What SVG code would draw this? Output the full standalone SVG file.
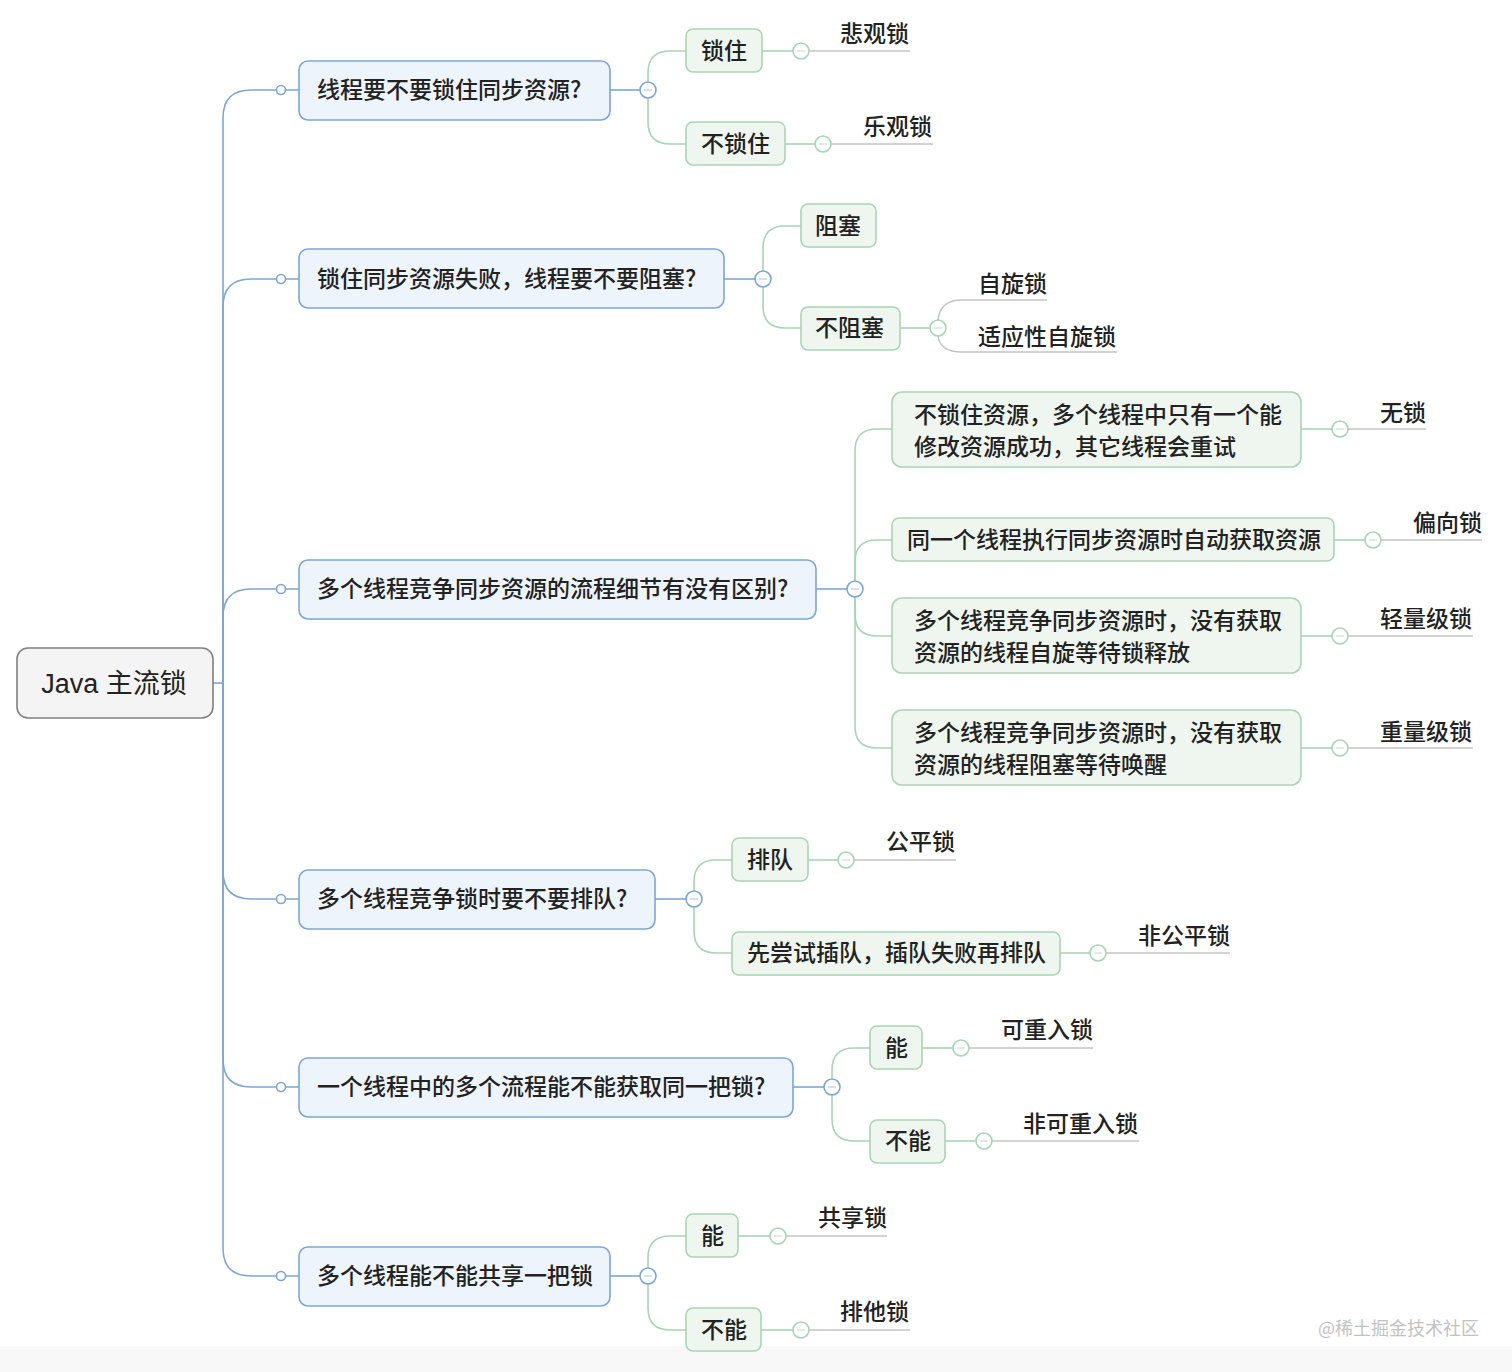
<svg xmlns="http://www.w3.org/2000/svg" width="1512" height="1372" viewBox="0 0 1512 1372">
<style>
text{font-family:"Noto Sans CJK SC","Noto Sans",sans-serif;fill:#222;font-size:23px;font-weight:500}
.root rect{fill:#f4f4f4;stroke:#808080;stroke-width:1.6}
.root text{font-family:"Liberation Sans","Noto Sans CJK SC",sans-serif;font-size:27px;font-weight:normal}
.l1 rect{fill:#eef4fb;stroke:#7ea6d2;stroke-width:1.6}
.l2 rect{fill:#eef6ef;stroke:#a9d4b5;stroke-width:1.6}
.bl{fill:none;stroke:#7ea6d2;stroke-width:1.6}
.gl{fill:none;stroke:#a9d4b5;stroke-width:1.6}
.ll{fill:none;stroke:#c4c4c4;stroke-width:1.6}
.cb{fill:#fff;stroke:#7ea6d2;stroke-width:1.6}
.cg{fill:#fff;stroke:#a9d4b5;stroke-width:1.6}
.mb{stroke:#b9cde4;stroke-width:1.2}
.mg{stroke:#c9e3cf;stroke-width:1.2}
text.wm{fill:#c2c2c2;font-size:18px;font-weight:normal}
</style>
<rect x="0" y="0" width="1512" height="1372" fill="#fff"/>
<rect x="0" y="1346" width="1512" height="26" fill="#f8f8f8"/>

<g id="connectors">
  <path class="bl" d="M213,683 H223"/>
  <path class="bl" d="M223,683 V118 Q223,90 251,90 H299"/>
  <path class="bl" d="M223,683 V307 Q223,279 251,279 H299"/>
  <path class="bl" d="M223,683 V617 Q223,589 251,589 H299"/>
  <path class="bl" d="M223,683 V871 Q223,899 251,899 H299"/>
  <path class="bl" d="M223,683 V1059 Q223,1087 251,1087 H299"/>
  <path class="bl" d="M223,683 V1248 Q223,1276 251,1276 H299"/>
  <circle class="cb" cx="281" cy="90" r="4.5"/>
  <circle class="cb" cx="281" cy="279" r="4.5"/>
  <circle class="cb" cx="281" cy="589" r="4.5"/>
  <circle class="cb" cx="281" cy="899" r="4.5"/>
  <circle class="cb" cx="281" cy="1087" r="4.5"/>
  <circle class="cb" cx="281" cy="1276" r="4.5"/>

  <path class="bl" d="M610,90 H640"/>
  <path class="bl" d="M724,279 H755"/>
  <path class="bl" d="M816,589 H847"/>
  <path class="bl" d="M655,899 H686"/>
  <path class="bl" d="M793,1087 H824"/>
  <path class="bl" d="M610,1276 H640"/>

  <path class="gl" d="M648,82 V73 Q648,51 670,51 H686"/>
  <path class="gl" d="M648,98 V122 Q648,144 670,144 H686"/>
  <path class="gl" d="M763,271 V248 Q763,226 785,226 H801"/>
  <path class="gl" d="M763,287 V306 Q763,328 785,328 H801"/>
  <path class="gl" d="M855,581 V451 Q855,429 877,429 H892"/>
  <path class="gl" d="M855,581 V562 Q855,540 877,540 H892"/>
  <path class="gl" d="M855,597 V614 Q855,636 877,636 H892"/>
  <path class="gl" d="M855,597 V726 Q855,748 877,748 H892"/>
  <path class="gl" d="M694,891 V882 Q694,860 716,860 H732"/>
  <path class="gl" d="M694,907 V931 Q694,953 716,953 H732"/>
  <path class="gl" d="M832,1079 V1070 Q832,1048 854,1048 H870"/>
  <path class="gl" d="M832,1095 V1119 Q832,1141 854,1141 H870"/>
  <path class="gl" d="M648,1268 V1258 Q648,1236 670,1236 H686"/>
  <path class="gl" d="M648,1284 V1308 Q648,1330 670,1330 H686"/>

  <path class="gl" d="M762,51 H793"/>
  <path class="gl" d="M785,144 H815"/>
  <path class="gl" d="M900,328 H930"/>
  <path class="gl" d="M1301,429 H1332"/>
  <path class="gl" d="M1334,540 H1365"/>
  <path class="gl" d="M1301,636 H1332"/>
  <path class="gl" d="M1301,748 H1332"/>
  <path class="gl" d="M808,860 H838"/>
  <path class="gl" d="M1060,953 H1090"/>
  <path class="gl" d="M922,1048 H953"/>
  <path class="gl" d="M945,1141 H976"/>
  <path class="gl" d="M738,1236 H770"/>
  <path class="gl" d="M761,1330 H793"/>

  <path class="ll" d="M809,51 H910"/>
  <path class="ll" d="M831,144 H933"/>
  <path class="ll" d="M938,320 Q940,300 962,300 H1047"/>
  <path class="ll" d="M938,336 Q940,352 962,352 H1117"/>
  <path class="ll" d="M1348,429 H1426"/>
  <path class="ll" d="M1381,540 H1482"/>
  <path class="ll" d="M1348,636 H1473"/>
  <path class="ll" d="M1348,748 H1473"/>
  <path class="ll" d="M854,860 H956"/>
  <path class="ll" d="M1106,953 H1230"/>
  <path class="ll" d="M969,1048 H1093"/>
  <path class="ll" d="M992,1141 H1139"/>
  <path class="ll" d="M786,1236 H887"/>
  <path class="ll" d="M809,1330 H910"/>

  <g>
    <circle class="cb" cx="648" cy="90" r="8"/><path class="mb" d="M644,90 H652"/>
    <circle class="cb" cx="763" cy="279" r="8"/><path class="mb" d="M759,279 H767"/>
    <circle class="cb" cx="855" cy="589" r="8"/><path class="mb" d="M851,589 H859"/>
    <circle class="cb" cx="694" cy="899" r="8"/><path class="mb" d="M690,899 H698"/>
    <circle class="cb" cx="832" cy="1087" r="8"/><path class="mb" d="M828,1087 H836"/>
    <circle class="cb" cx="648" cy="1276" r="8"/><path class="mb" d="M644,1276 H652"/>
  </g>
  <g>
    <circle class="cg" cx="801" cy="51" r="8"/><path class="mg" d="M797,51 H805"/>
    <circle class="cg" cx="823" cy="144" r="8"/><path class="mg" d="M819,144 H827"/>
    <circle class="cg" cx="938" cy="328" r="8"/><path class="mg" d="M934,328 H942"/>
    <circle class="cg" cx="1340" cy="429" r="8"/><path class="mg" d="M1336,429 H1344"/>
    <circle class="cg" cx="1373" cy="540" r="8"/><path class="mg" d="M1369,540 H1377"/>
    <circle class="cg" cx="1340" cy="636" r="8"/><path class="mg" d="M1336,636 H1344"/>
    <circle class="cg" cx="1340" cy="748" r="8"/><path class="mg" d="M1336,748 H1344"/>
    <circle class="cg" cx="846" cy="860" r="8"/><path class="mg" d="M842,860 H850"/>
    <circle class="cg" cx="1098" cy="953" r="8"/><path class="mg" d="M1094,953 H1102"/>
    <circle class="cg" cx="961" cy="1048" r="8"/><path class="mg" d="M957,1048 H965"/>
    <circle class="cg" cx="984" cy="1141" r="8"/><path class="mg" d="M980,1141 H988"/>
    <circle class="cg" cx="778" cy="1236" r="8"/><path class="mg" d="M774,1236 H782"/>
    <circle class="cg" cx="801" cy="1330" r="8"/><path class="mg" d="M797,1330 H805"/>
  </g>
</g>

<g id="root" class="root">
  <rect x="17" y="648" width="196" height="70" rx="11"/>
  <text x="114" y="693" text-anchor="middle">Java 主流锁</text>
</g>

<g id="q1" class="l1"><rect x="299" y="61" width="311" height="59" rx="9"/><text x="317" y="98">线程要不要锁住同步资源?</text></g>
<g id="q2" class="l1"><rect x="299" y="249" width="425" height="59" rx="9"/><text x="317" y="287">锁住同步资源失败，线程要不要阻塞?</text></g>
<g id="q3" class="l1"><rect x="299" y="560" width="517" height="59" rx="9"/><text x="317" y="597">多个线程竞争同步资源的流程细节有没有区别?</text></g>
<g id="q4" class="l1"><rect x="299" y="870" width="356" height="59" rx="9"/><text x="317" y="907">多个线程竞争锁时要不要排队?</text></g>
<g id="q5" class="l1"><rect x="299" y="1058" width="494" height="59" rx="9"/><text x="317" y="1095">一个线程中的多个流程能不能获取同一把锁?</text></g>
<g id="q6" class="l1"><rect x="299" y="1247" width="311" height="59" rx="9"/><text x="317" y="1284">多个线程能不能共享一把锁</text></g>

<g id="a1" class="l2"><rect x="686" y="29" width="76" height="43" rx="7"/><text x="701" y="59">锁住</text></g>
<g id="a2" class="l2"><rect x="686" y="122" width="99" height="43" rx="7"/><text x="701" y="152">不锁住</text></g>
<g id="b1" class="l2"><rect x="801" y="204" width="75" height="43" rx="7"/><text x="815" y="234">阻塞</text></g>
<g id="b2" class="l2"><rect x="801" y="307" width="99" height="43" rx="7"/><text x="815" y="336">不阻塞</text></g>
<g id="c1" class="l2"><rect x="892" y="392" width="409" height="75" rx="10"/><text x="914" y="423">不锁住资源，多个线程中只有一个能</text><text x="914" y="455">修改资源成功，其它线程会重试</text></g>
<g id="c2" class="l2"><rect x="892" y="518" width="442" height="43" rx="7"/><text x="907" y="548">同一个线程执行同步资源时自动获取资源</text></g>
<g id="c3" class="l2"><rect x="892" y="598" width="409" height="75" rx="10"/><text x="914" y="629">多个线程竞争同步资源时，没有获取</text><text x="914" y="661">资源的线程自旋等待锁释放</text></g>
<g id="c4" class="l2"><rect x="892" y="710" width="409" height="75" rx="10"/><text x="914" y="741">多个线程竞争同步资源时，没有获取</text><text x="914" y="773">资源的线程阻塞等待唤醒</text></g>
<g id="d1" class="l2"><rect x="732" y="838" width="76" height="43" rx="7"/><text x="747" y="868">排队</text></g>
<g id="d2" class="l2"><rect x="732" y="932" width="328" height="43" rx="7"/><text x="747" y="961">先尝试插队，插队失败再排队</text></g>
<g id="e1" class="l2"><rect x="870" y="1026" width="52" height="43" rx="7"/><text x="885" y="1056">能</text></g>
<g id="e2" class="l2"><rect x="870" y="1120" width="75" height="43" rx="7"/><text x="885" y="1149">不能</text></g>
<g id="f1" class="l2"><rect x="686" y="1214" width="52" height="43" rx="7"/><text x="701" y="1244">能</text></g>
<g id="f2" class="l2"><rect x="686" y="1308" width="75" height="43" rx="7"/><text x="701" y="1338">不能</text></g>

<g id="leaves">
  <g id="l-pessimistic"><text x="840" y="42">悲观锁</text></g>
  <g id="l-optimistic"><text x="863" y="135">乐观锁</text></g>
  <g id="l-spin"><text x="978" y="292">自旋锁</text></g>
  <g id="l-adaptive"><text x="978" y="345">适应性自旋锁</text></g>
  <g id="l-nolock"><text x="1380" y="421">无锁</text></g>
  <g id="l-biased"><text x="1413" y="531">偏向锁</text></g>
  <g id="l-light"><text x="1380" y="627">轻量级锁</text></g>
  <g id="l-heavy"><text x="1380" y="740">重量级锁</text></g>
  <g id="l-fair"><text x="886" y="850">公平锁</text></g>
  <g id="l-unfair"><text x="1138" y="944">非公平锁</text></g>
  <g id="l-reentrant"><text x="1001" y="1038">可重入锁</text></g>
  <g id="l-nonreentrant"><text x="1023" y="1132">非可重入锁</text></g>
  <g id="l-shared"><text x="818" y="1226">共享锁</text></g>
  <g id="l-exclusive"><text x="840" y="1320">排他锁</text></g>
</g>

<text class="wm" x="1318" y="1335">@稀土掘金技术社区</text>
</svg>
